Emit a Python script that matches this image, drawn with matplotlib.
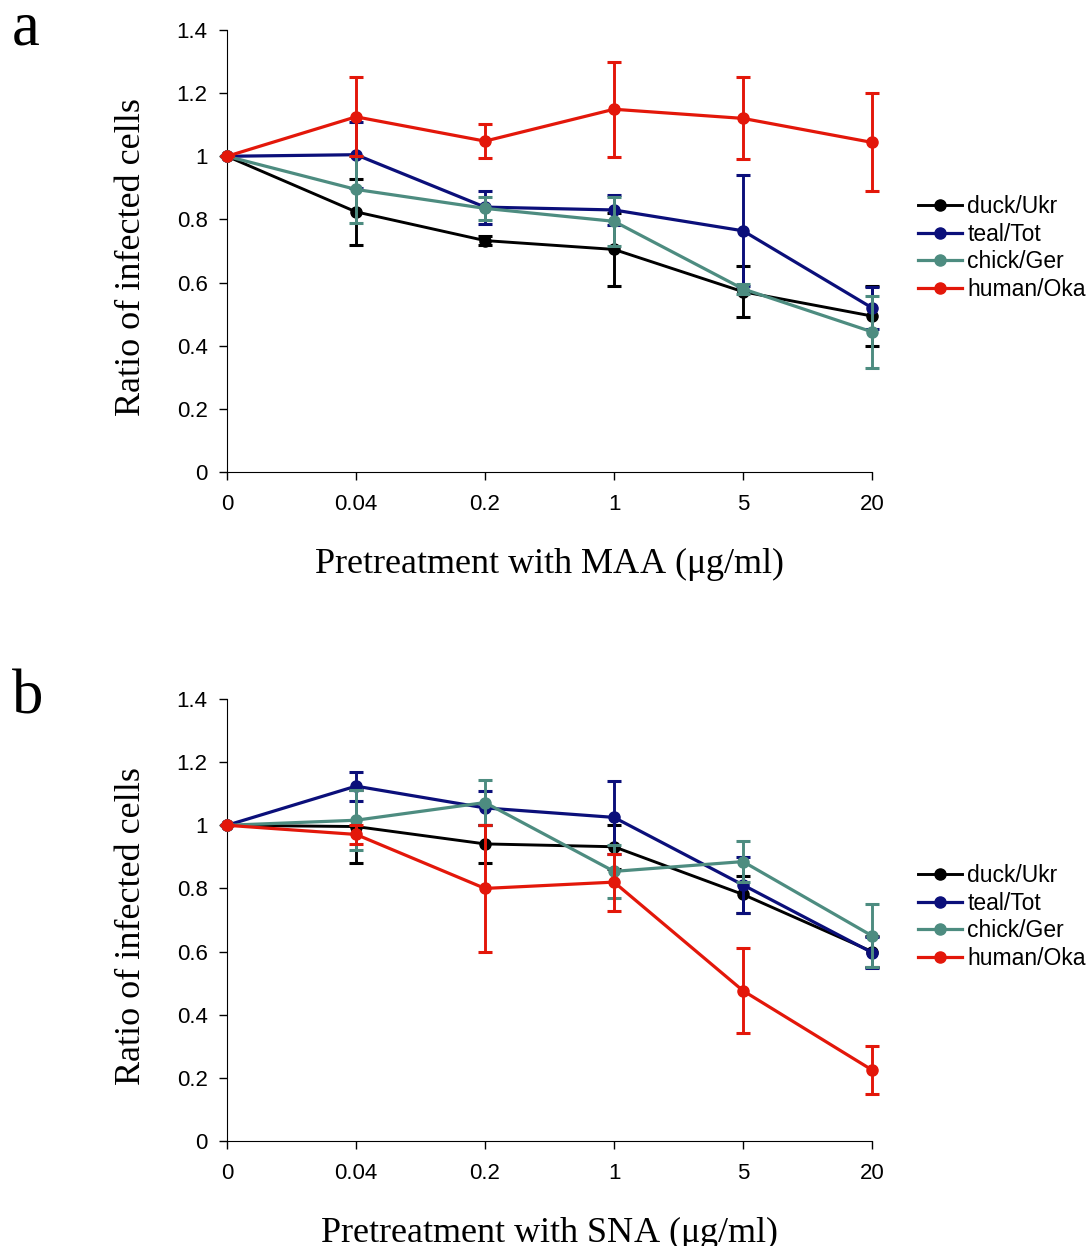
# Recreation of a two-panel lectin pretreatment figure.
# ---------------------------------------------------------------------------------------------- #
import numpy as np
import matplotlib
matplotlib.use('Agg')
import matplotlib.pyplot as plt
from matplotlib.lines import Line2D
# ---------------------------------------------------------------------------------------------- #


# ---------------------------------------------------------------------------------------------- #
# We define the data.
# ---------------------------------------------------------------------------------------------- #
DoseLabels = ['0', '0.04', '0.2', '1', '5', '20']
StrainNames = ['duck/Ukr', 'teal/Tot', 'chick/Ger', 'human/Oka']

# Panel a: pretreatment with MAA
MaaMeans = [
    [1.0, 0.824, 0.733, 0.705, 0.571, 0.494],   # duck/Ukr
    [1.0, 1.005, 0.839, 0.830, 0.764, 0.520],   # teal/Tot
    [1.0, 0.895, 0.835, 0.794, 0.580, 0.444],   # chick/Ger
    [1.0, 1.125, 1.048, 1.149, 1.120, 1.044],   # human/Oka
]
MaaErrors = [
    [0.0, 0.104, 0.015, 0.116, 0.080, 0.094],
    [0.0, 0.105, 0.052, 0.048, 0.176, 0.066],
    [0.0, 0.105, 0.037, 0.077, 0.015, 0.114],
    [0.0, 0.125, 0.054, 0.150, 0.130, 0.155],
]

# Panel b: pretreatment with SNA
SnaMeans = [
    [1.0, 0.996, 0.941, 0.932, 0.781, 0.600],
    [1.0, 1.124, 1.055, 1.025, 0.811, 0.597],
    [1.0, 1.016, 1.072, 0.854, 0.885, 0.650],
    [1.0, 0.971, 0.800, 0.820, 0.476, 0.225],
]
SnaErrors = [
    [0.0, 0.116, 0.061, 0.070, 0.058, 0.050],
    [0.0, 0.046, 0.055, 0.115, 0.088, 0.048],
    [0.0, 0.095, 0.070, 0.084, 0.066, 0.100],
    [0.0, 0.030, 0.200, 0.090, 0.135, 0.075],
]
# ---------------------------------------------------------------------------------------------- #


# ---------------------------------------------------------------------------------------------- #
# We define plot properties.
# ---------------------------------------------------------------------------------------------- #
SansFont = 'Liberation Sans'
SerifFont = 'Liberation Serif'
LineColors = ['#000000', '#0b0f7a', '#4d8c80', '#e3170a']
LineWidths = [2.1, 2.3, 2.3, 2.3]
TickSize = 16
LabelSize = 26
LegendSize = 16.5
MarkerSize = 8
# ---------------------------------------------------------------------------------------------- #


# ---------------------------------------------------------------------------------------------- #
# We define a function to draw one panel.
# ---------------------------------------------------------------------------------------------- #
def DrawPanel(Ax, Means, Errors, XLabel, PanelTag):
    XPos = np.arange(len(DoseLabels))
    Handles = []
    for i, Name in enumerate(StrainNames):
        Ax.errorbar(
            XPos,
            Means[i],
            yerr = Errors[i],
            color = LineColors[i],
            linewidth = LineWidths[i],
            elinewidth = 2.1,
            capsize = 5.3,
            capthick = 2.2,
            marker = 'o',
            markersize = MarkerSize,
            clip_on = False,
            zorder = 3 + i
            )
        Handles.append(Line2D([], [], color = LineColors[i], linewidth = LineWidths[i],
                              marker = 'o', markersize = MarkerSize, label = Name))

    # We configure the axes.
    Ax.set_xlim(0, len(DoseLabels) - 1)
    Ax.set_ylim(0, 1.4)
    Ax.set_xticks(XPos)
    Ax.set_xticklabels(DoseLabels, fontsize = TickSize, fontname = SansFont)
    YTicks = np.arange(0, 1.41, 0.2)
    Ax.set_yticks(YTicks)
    Ax.set_yticklabels([f'{v:g}' for v in YTicks], fontsize = TickSize, fontname = SansFont)
    Ax.tick_params(direction = 'out', length = 6, width = 1)
    Ax.tick_params(axis = 'x', pad = 10)
    Ax.tick_params(axis = 'y', pad = 8)
    Ax.spines['top'].set_visible(False)
    Ax.spines['right'].set_visible(False)
    Ax.set_xlabel(XLabel, fontsize = LabelSize, fontname = SerifFont)
    Ax.xaxis.set_label_coords(0.5, -0.165)
    Ax.set_ylabel('Ratio of infected cells', fontsize = LabelSize, fontname = SerifFont)
    Ax.yaxis.set_label_coords(-0.122, 0.487)
    Ax.text(-0.333, 0.968, PanelTag, transform = Ax.transAxes, fontsize = 45,
            fontname = SerifFont, va = 'baseline', ha = 'left')

    Ax.legend(handles = Handles, loc = 'center left', bbox_to_anchor = (1.0713, 0.507),
              frameon = False, prop = {'family': SansFont, 'size': LegendSize},
              handlelength = 1.9, handletextpad = 0.25, labelspacing = 0.2,
              borderpad = 0, borderaxespad = 0, numpoints = 1)
# ---------------------------------------------------------------------------------------------- #


# ---------------------------------------------------------------------------------------------- #
# We build the figure and save it.
# ---------------------------------------------------------------------------------------------- #
Fig = plt.figure(figsize = (10.92, 12.46), dpi = 100)
AxA = Fig.add_axes([227 / 1092, 1 - 472 / 1246, 645 / 1092, 442 / 1246])
AxB = Fig.add_axes([227 / 1092, 1 - 1141 / 1246, 645 / 1092, 442 / 1246])

DrawPanel(AxA, MaaMeans, MaaErrors, r'Pretreatment with MAA ($\mathregular{\mu}$g/ml)', 'a')
DrawPanel(AxB, SnaMeans, SnaErrors, r'Pretreatment with SNA ($\mathregular{\mu}$g/ml)', 'b')

Fig.savefig('out.png', dpi = 100)
# ---------------------------------------------------------------------------------------------- #
